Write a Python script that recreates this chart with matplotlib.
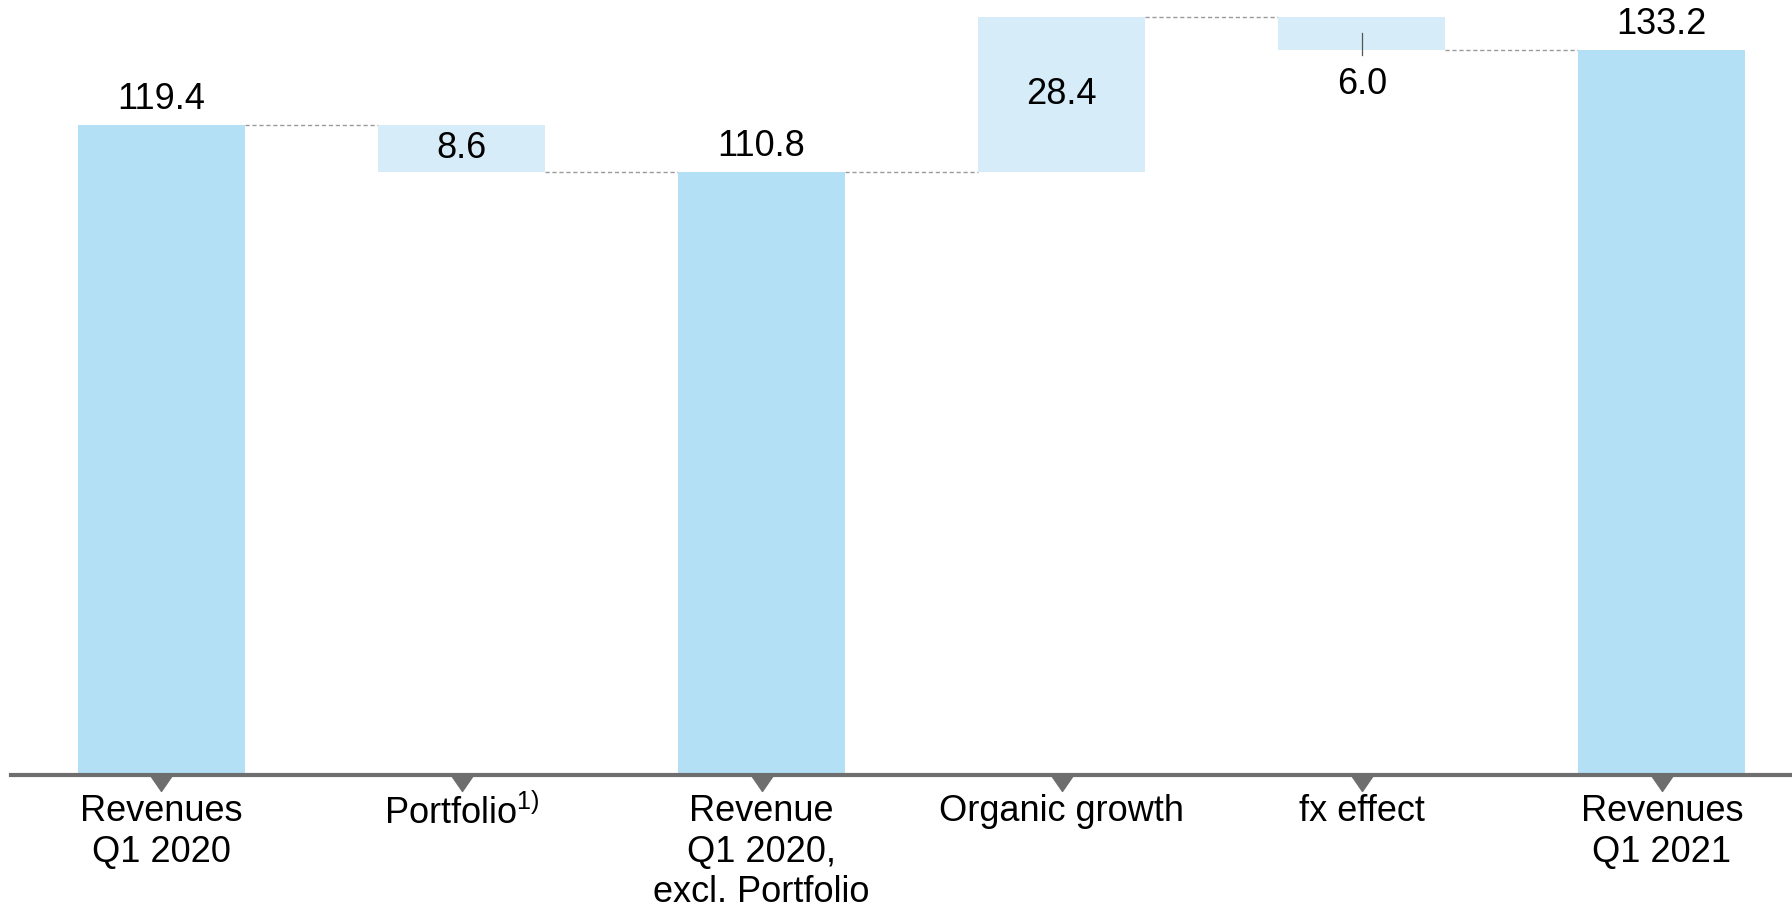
import matplotlib
matplotlib.use("Agg")
import matplotlib.pyplot as plt
from matplotlib.path import Path

plt.rcParams['font.family'] = ['Liberation Sans', 'DejaVu Sans']
plt.rcParams['mathtext.fontset'] = 'custom'
plt.rcParams['mathtext.rm'] = 'Liberation Sans'
plt.rcParams['mathtext.it'] = 'Liberation Sans:italic'

# waterfall data
categories = ['Revenues\nQ1 2020', 'Portfolio$^{1)}$', 'Revenue\nQ1 2020,\nexcl. Portfolio',
              'Organic growth', 'fx effect', 'Revenues\nQ1 2021']
values = [119.4, -8.6, 110.8, 28.4, -6.0, 133.2]
is_total = [True, False, True, False, False, True]
value_labels = ['119.4', '8.6', '110.8', '28.4', '6.0', '133.2']

TOTAL_COLOR = '#b3e0f4'
DELTA_COLOR = '#d6edf9'
AXIS_COLOR = '#6e6e6e'
BAR_W = 0.556

fig = plt.figure(figsize=(17.92, 9.19), dpi=100)
ax = fig.add_axes([10 / 1568, 126 / 804, 1 - 10 / 1568, 1 - 126 / 804])

level = 0
levels = []
for i, (v, tot) in enumerate(zip(values, is_total)):
    if tot:
        bottom, top = 0, v
        level = v
        ax.bar(i, v, width=BAR_W, color=TOTAL_COLOR, zorder=2)
        ax.text(i, top + 4.7, value_labels[i], ha='center', va='center', fontsize=26)
    else:
        bottom = min(level, level + v)
        top = max(level, level + v)
        ax.bar(i, top - bottom, bottom=bottom, width=BAR_W, color=DELTA_COLOR, zorder=2)
        level = level + v
        if top - bottom < 7:
            # small step: label below bar with a short leader line
            ax.plot([i, i], [(top + bottom) / 2, bottom - 1], color='#555555', lw=0.9, zorder=3)
            ax.text(i, bottom - 6.3, value_labels[i], ha='center', va='center', fontsize=26)
        else:
            ax.text(i, (top + bottom) / 2, value_labels[i], ha='center', va='center', fontsize=26)
    levels.append(level)

# dashed connectors between bars
for i in range(len(values) - 1):
    ax.plot([i + BAR_W / 2, i + 1 - BAR_W / 2], [levels[i], levels[i]],
            ls=(0, (3, 2)), color='#9a9a9a', lw=1, zorder=1)

# baseline and little triangles under each category
ax.axhline(0, color=AXIS_COLOR, lw=3, clip_on=False, zorder=4)
tri = Path([(-1, 0), (1, 0), (0, -1.45), (-1, 0)], closed=True)
ax.plot(range(len(values)), [0] * len(values), ls='none', marker=tri, ms=23,
        color=AXIS_COLOR, clip_on=False, zorder=5)

ax.set_xlim(-0.5, 5.434)
ax.set_ylim(0, 142.35)
ax.set_xticks(range(len(categories)))
ax.set_xticklabels(categories, fontsize=26, linespacing=1.2)
ax.tick_params(axis='x', length=0, pad=14)
ax.set_yticks([])
for s in ax.spines.values():
    s.set_visible(False)

fig.savefig('out.png', dpi=100)
